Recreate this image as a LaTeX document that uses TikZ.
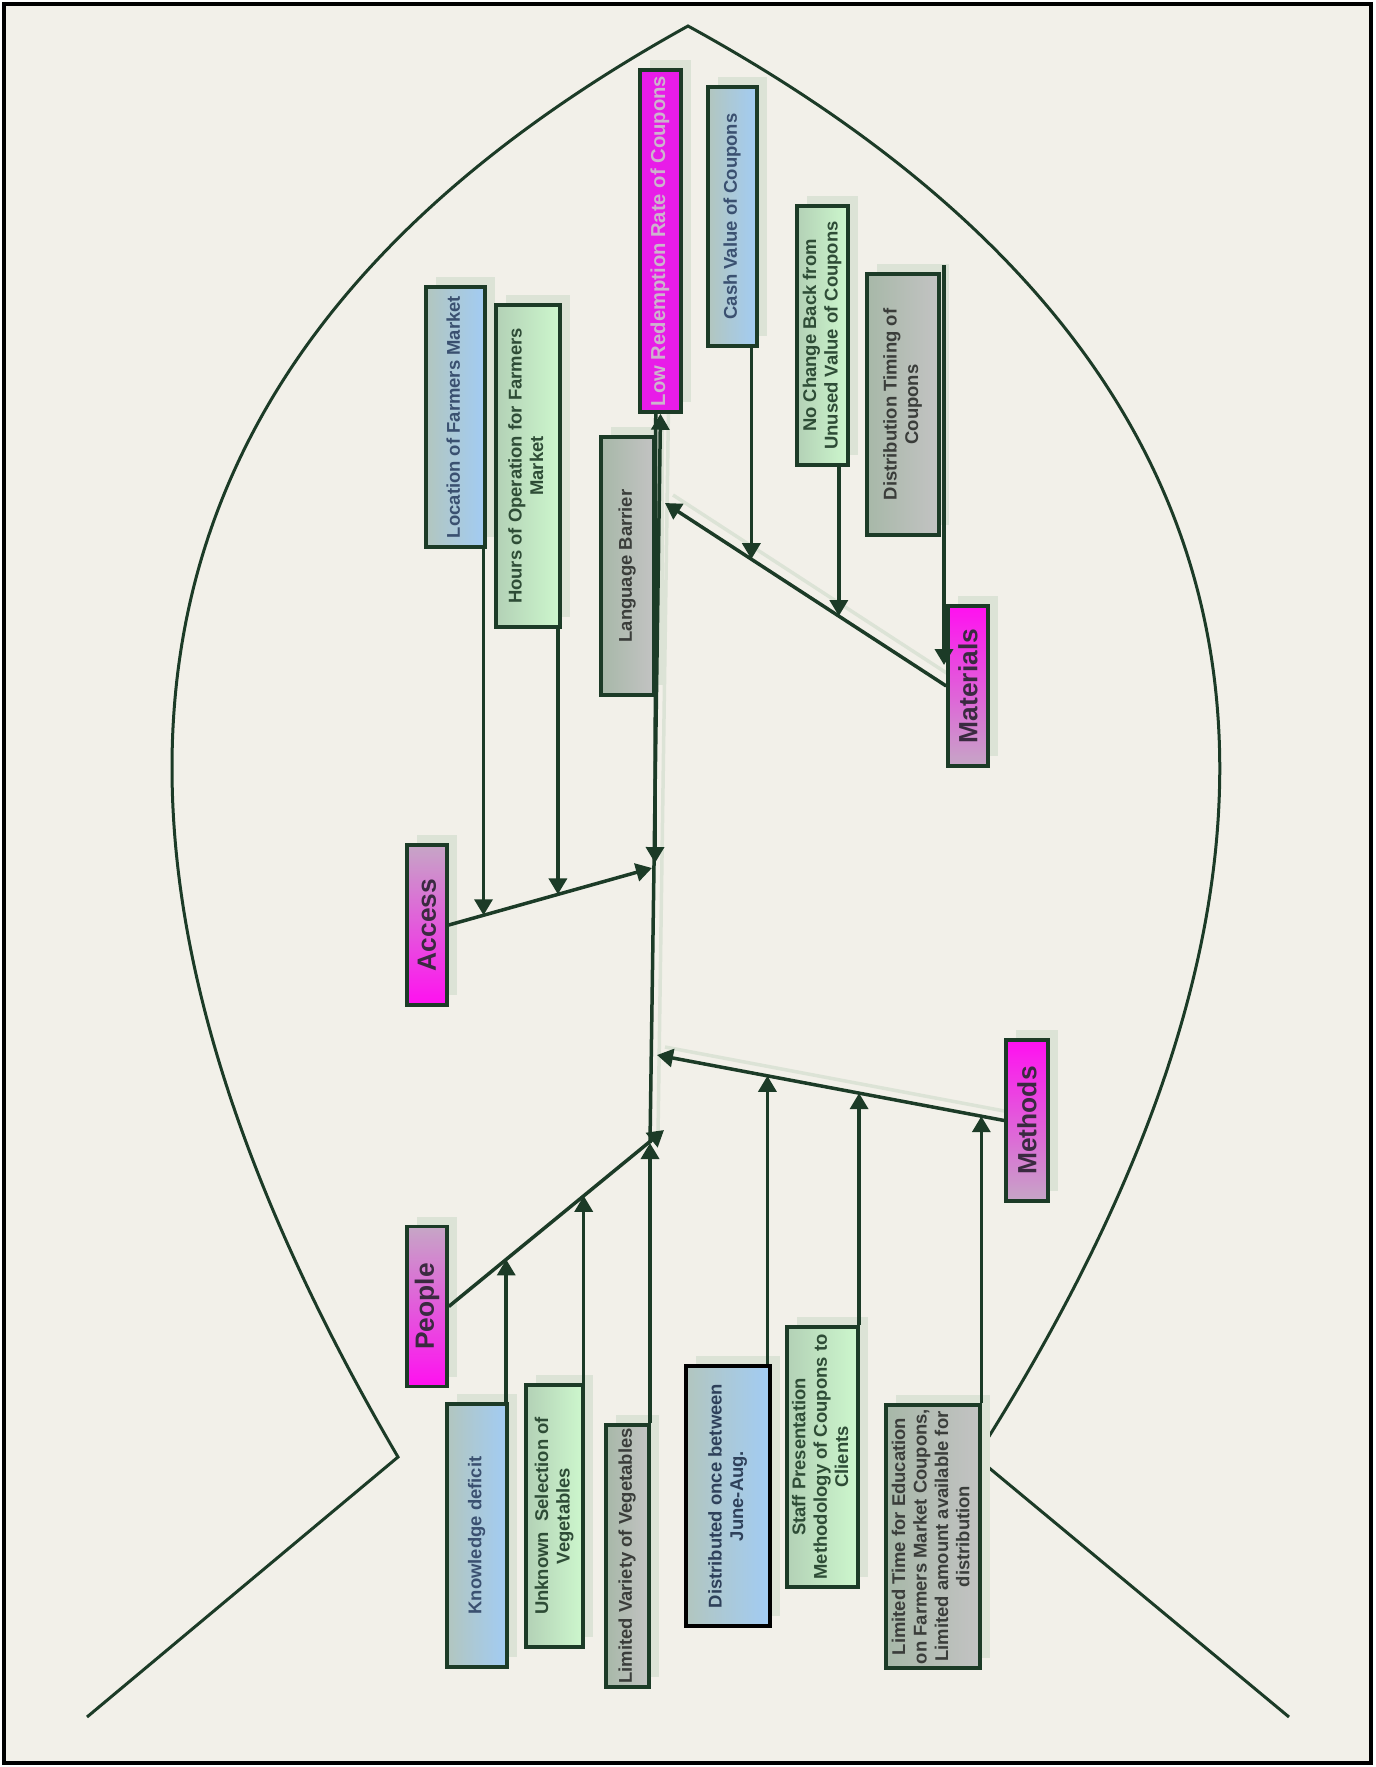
\documentclass[tikz,border=0pt]{standalone}
\usepackage{graphicx}
\usepackage{fontspec}
\setmainfont{Liberation Sans}
\usepackage{tikz}
\usetikzlibrary{arrows.meta,shadows,calc}

\pgfdeclarelayer{back}
\pgfsetlayers{back,main}

\definecolor{bgc}{HTML}{F2F0E9}
\definecolor{linec}{HTML}{1C3B27}
\definecolor{shadowc}{HTML}{DCE3D6}
\definecolor{bluel}{HTML}{A2CCF4}
\definecolor{blued}{HTML}{B2C6BF}
\definecolor{greenl}{HTML}{CDF7CD}
\definecolor{greend}{HTML}{B3D1B6}
\definecolor{grayl}{HTML}{C3C3C3}
\definecolor{grayd}{HTML}{A7B8A8}
\definecolor{magl}{HTML}{FF10F0}
\definecolor{magd}{HTML}{C6A6C6}
\definecolor{magred}{HTML}{E81CE8}
\definecolor{txtblue}{HTML}{3A5070}
\definecolor{txtgreen}{HTML}{2E4C36}
\definecolor{txtgray}{HTML}{3A3D3A}
\definecolor{txtcat}{HTML}{3A2A40}
\definecolor{txtpink}{HTML}{CDB3CD}

% rotated, centred label for the boxes
\newcommand{\vlabel}[1]{\rotatebox{90}{\begin{tabular}{@{}c@{}}#1\end{tabular}}}

\begin{document}
\begin{tikzpicture}[
  x=0.2mm, y=-0.2mm,
  cause/.style={draw=linec, line width=0.7mm, inner sep=0pt,
    font=\fontsize{10.5}{12.2}\selectfont\bfseries,
    drop shadow={shadow xshift=2mm, shadow yshift=2mm, fill=shadowc, opacity=1}},
  bluebox/.style={cause, left color=blued, right color=bluel, text=txtblue},
  greenbox/.style={cause, left color=greend, right color=greenl, text=txtgreen},
  graybox/.style={cause, left color=grayd, right color=grayl, text=txtgray},
  bone/.style={cause, minimum width=8mm, minimum height=32mm,
    font=\fontsize{15}{17}\selectfont\bfseries, text=txtcat},
  magdown/.style={bone, top color=magl, bottom color=magd},
  magup/.style={bone, top color=magd, bottom color=magl},
  effect/.style={cause, fill=magred, text=txtpink, font=\fontsize{11.5}{13}\selectfont\bfseries},
  arr/.style={draw=linec, line width=0.7mm, -{Triangle[length=3.2mm, width=3.6mm]}},
  lineshadow/.style={draw=shadowc, line width=0.7mm, transform canvas={shift={(1.6mm,1.6mm)}}},
  bonearr/.style={arr, preaction={lineshadow, arrows=-}},
  fishline/.style={draw=linec, line width=0.6mm}
]

\useasboundingbox (0,0) rectangle (1375,1767);

\begin{pgfonlayer}{back}
\fill[white] (0,0) rectangle (1375,1767);
\draw[black, line width=0.7mm, fill=bgc] (4,4) rectangle (1371,1763);
% fish outline
\draw[fishline] (87,1717) -- (398,1457) .. controls (-10,760) and (163,317) .. (688,26)
  .. controls (1218,317) and (1420,760) .. (976,1457) -- (1289,1717);
\end{pgfonlayer}

% head and bones
\node[effect, minimum width=8.2mm, minimum height=68.4mm] (lowred) at (660.5,241) {\vlabel{Low Redemption Rate of Coupons}};
\node[magdown] (mat) at (968,686) {\rotatebox{90}{Materials}};
\node[magup] (acc) at (427,925) {\rotatebox{90}{Access}};
\node[magdown, minimum width=8.4mm, minimum height=32.2mm] (meth) at (1027,1120.5) {\rotatebox{90}{Methods}};
\node[magup] (peo) at (427,1306.5) {\rotatebox{90}{People}};

% causes above the spine
\node[bluebox, minimum width=9.8mm, minimum height=51.8mm] (cash) at (732.5,216.5) {\vlabel{Cash Value of Coupons}};
\node[greenbox, minimum width=10.2mm, minimum height=51.8mm] (nochange) at (822.5,335.5) {\vlabel{No Change Back from\\Unused Value of Coupons}};
\node[graybox, minimum width=14.4mm, minimum height=52.2mm] (dist) at (903,404.5) {\vlabel{Distribution Timing of\\Coupons}};
\node[bluebox, minimum width=11.8mm, minimum height=52mm] (loc) at (455.5,417) {\vlabel{Location of Farmers Market}};
\node[greenbox, minimum width=12.8mm, minimum height=64.4mm] (hours) at (528,466) {\vlabel{Hours of Operation for Farmers\\Market}};
\node[graybox, minimum width=10.6mm, minimum height=51.6mm] (lang) at (627.5,566) {\vlabel{Language Barrier}};

% causes below the spine
\node[bluebox, minimum width=12mm, minimum height=52.6mm] (know) at (477,1535.5) {\vlabel{Knowledge deficit}};
\node[greenbox, minimum width=11.4mm, minimum height=52.4mm] (unknown) at (554.5,1516) {\vlabel{Unknown~ Selection of\\Vegetables}};
\node[graybox, minimum width=8.6mm, minimum height=52.4mm] (limvar) at (627.5,1556) {\vlabel{Limited Variety of Vegetables}};
\node[bluebox, draw=black, line width=0.9mm, text=txtblue!80!black, minimum width=16.8mm, minimum height=52mm] (distrib) at (728,1496) {\vlabel{Distributed once between\\June-Aug.}};
\node[greenbox, minimum width=14.2mm, minimum height=52mm] (staff) at (822.5,1457) {\vlabel{Staff Presentation\\Methodology of Coupons to\\Clients}};
\node[graybox, minimum width=18.8mm, minimum height=52.6mm] (limtime) at (933,1536.5) {\vlabel{Limited Time for Education\\on Farmers Market Coupons,\\Limited amount available for\\distribution}};

% ends on the spine
\coordinate (jmat) at (665,503);
\coordinate (jlang) at (655,863);
\coordinate (jacc) at (652,868);
\coordinate (jmeth) at (657,1055);
\coordinate (jpeo) at (664,1130);
\coordinate (jvar) at (650,1143);
\coordinate (jdist) at (944,665);

% points on the bones
\coordinate (jcash) at ($(mat.west)!0.693!(jmat)$);
\coordinate (jnoch) at ($(mat.west)!0.382!(jmat)$);
\coordinate (jloc) at ($(acc.east)!0.171!(jacc)$);
\coordinate (jhours) at ($(acc.east)!0.537!(jacc)$);
\coordinate (jknow) at ($(peo.east)!0.267!(jpeo)$);
\coordinate (junkn) at ($(peo.east)!0.627!(jpeo)$);
\coordinate (jdistr) at ($(meth.west)!0.682!(jmeth)$);
\coordinate (jstaff) at ($(meth.west)!0.418!(jmeth)$);
\coordinate (jtime) at ($(meth.west)!0.066!(jmeth)$);

% pale shadows of the spine and the two long bones, under the boxes
\begin{pgfonlayer}{back}
\draw[lineshadow] (jvar) -- (lowred.south);
\draw[bonearr] (mat.west) -- (jmat);
\draw[bonearr] (meth.west) -- (jmeth);
\end{pgfonlayer}

% spine
\draw[arr] (jvar) -- (lowred.south);
\draw[arr] (jvar |- limvar.north) -- (jvar);
\draw[arr] (lang.east |- lowred.south) -- (jlang);

% bones
\draw[arr] (acc.east) -- (jacc);
\draw[arr] (peo.east) -- (jpeo);

% causes
\draw[arr] (jcash |- cash.south) -- (jcash);
\draw[arr] (jnoch |- nochange.south) -- (jnoch);
\draw[arr] ($(jdist |- dist.north)+(0,-7)$) -- (jdist);
\draw[arr] (jloc |- loc.south) -- (jloc);
\draw[arr] (jhours |- hours.south) -- (jhours);
\draw[arr] (jknow |- know.north) -- (jknow);
\draw[arr] (junkn |- unknown.north) -- (junkn);
\draw[arr] (jdistr |- distrib.north) -- (jdistr);
\draw[arr] (jstaff |- staff.north) -- (jstaff);
\draw[arr] (jtime |- limtime.north) -- (jtime);

\end{tikzpicture}
\end{document}
